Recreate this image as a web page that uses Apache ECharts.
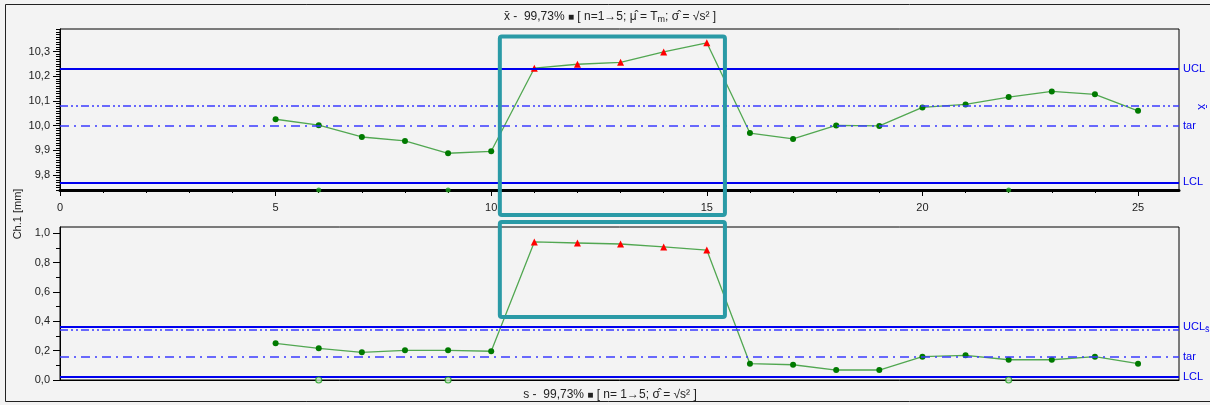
<!DOCTYPE html>
<html><head><meta charset="utf-8">
<script src="https://cdn.jsdelivr.net/npm/echarts@6/dist/echarts.min.js"></script>
<style>html,body{margin:0;padding:0;background:#f3f3f3}#c{width:1210px;height:405px}</style>
</head><body><div id="c"></div>
<script>
// ---- data ----
const samples   = [5,6,7,8,9,10,11,12,13,14,15,16,17,18,19,20,21,22,23,24,25];
const xbarValues = [10.026,10.002,9.954,9.938,9.888,9.896,10.233,10.249,10.257,10.299,10.336,9.970,9.946,10.001,9.999,10.074,10.086,10.116,10.139,10.127,10.060];
const sValues    = [0.250,0.216,0.189,0.202,0.202,0.196,0.941,0.934,0.927,0.907,0.886,0.111,0.104,0.068,0.068,0.159,0.168,0.138,0.138,0.159,0.111];
const alarmSamples = [11,12,13,14,15];
const eventSamples = [6,9,22];
// limits: [UCL, mean, target, LCL]
const xbarLimits = [10.231, 10.077, 10.0, 9.769];
const sLimits    = [0.363, 0.339, 0.162, 0.0227];
const xTicks      = [0,5,10,15,20,25];
const xbarTicks   = [9.8,9.9,10.0,10.1,10.2,10.3];
const sTicks      = [0.0,0.2,0.4,0.6,0.8,1.0];
const sMinorTicks = [0.1,0.3,0.5,0.7,0.9];
// highlight boxes in data units: [x0, x1, y0, y1]
const boxTop    = [10.2, 15.42, 9.638, 10.362];
const boxBottom = [10.2, 15.42, 0.43, 1.077];

const xMin = 0, xMax = 25.95;
const yTopMin = 9.739, yTopMax = 10.392;
const yBotMin = 0, yBotMax = 1.043;

const xbarMinor = [];
for (let k = 974; k <= 1039; k++) { if (k % 10 !== 0) xbarMinor.push(k / 100); }
const xMinor = [];
for (let k = 1; k <= 25; k++) { if (k % 5 !== 0) xMinor.push(k); }

const FONT = 'Liberation Sans, Arial, sans-serif';
const BLUE = '#0000ee';
const LBLUE = '#3b3bff';
const comma = v => (Math.round(v * 10) / 10).toFixed(1).replace('.', ',');

function pointData(vals) {
  return samples.map((x, i) => {
    if (alarmSamples.indexOf(x) >= 0) {
      return { value: [x, vals[i]], symbol: 'triangle', symbolSize: 7, itemStyle: { color: '#ff0000' } };
    }
    return { value: [x, vals[i]] };
  });
}
function limitLines(lim, labels) {
  const styles = [
    { color: BLUE, width: 2, type: 'solid' },
    { color: LBLUE, width: 1.5, type: [8, 3, 2, 3, 2, 3] },
    { color: LBLUE, width: 1.5, type: [9, 5, 2, 5] },
    { color: BLUE, width: 2, type: 'solid' }
  ];
  return lim.map((v, i) => ({
    yAxis: v,
    lineStyle: styles[i],
    label: { show: labels[i] !== '', formatter: labels[i], position: 'end', distance: 4, color: BLUE, fontSize: 11, fontFamily: FONT,
      rich: { s: { fontSize: 9, color: BLUE, fontFamily: FONT, padding: [4, 0, 0, 0] } } }
  }));
}

const chart = echarts.init(document.getElementById('c'), null, { renderer: 'canvas' });
const axisText = { color: '#222', fontSize: 11, fontFamily: FONT };

const option = {
  animation: false,
  backgroundColor: '#f3f3f3',
  grid: [
    { left: 60, right: 31, top: 29, height: 161, show: true, borderColor: '#000', borderWidth: 1, backgroundColor: '#f3f3f3' },
    { left: 60, right: 31, top: 227, height: 153, show: true, borderColor: '#000', borderWidth: 1, backgroundColor: '#f3f3f3' }
  ],
  xAxis: [
    { gridIndex: 0, type: 'value', min: xMin, max: xMax, position: 'bottom',
      axisLine: { show: true, lineStyle: { color: '#000', width: 3 } },
      axisTick: { show: true, length: 6, customValues: xTicks, lineStyle: { color: '#000' } },
      axisLabel: { show: true, customValues: xTicks, margin: 12, ...axisText },
      splitLine: { show: false } },
    { gridIndex: 0, type: 'value', min: xMin, max: xMax, position: 'bottom',
      axisLine: { show: false },
      axisTick: { show: true, length: 3, customValues: xMinor, lineStyle: { color: '#000' } },
      axisLabel: { show: false }, splitLine: { show: false } },
    { gridIndex: 1, type: 'value', min: xMin, max: xMax, position: 'bottom',
      axisLine: { show: true, lineStyle: { color: '#000', width: 1 } },
      axisTick: { show: false }, axisLabel: { show: false }, splitLine: { show: false } }
  ],
  yAxis: [
    { gridIndex: 0, type: 'value', min: yTopMin, max: yTopMax, position: 'left',
      axisLine: { show: true, lineStyle: { color: '#000', width: 1 } },
      axisTick: { show: true, length: 7, customValues: xbarTicks, lineStyle: { color: '#000' } },
      axisLabel: { show: true, customValues: xbarTicks, margin: 10, formatter: comma, ...axisText },
      splitLine: { show: false } },
    { gridIndex: 0, type: 'value', min: yTopMin, max: yTopMax, position: 'left',
      axisLine: { show: false },
      axisTick: { show: true, length: 4, customValues: xbarMinor, lineStyle: { color: '#000' } },
      axisLabel: { show: false }, splitLine: { show: false } },
    { gridIndex: 1, type: 'value', min: yBotMin, max: yBotMax, position: 'left',
      axisLine: { show: true, lineStyle: { color: '#000', width: 1 } },
      axisTick: { show: true, length: 7, customValues: sTicks, lineStyle: { color: '#000' } },
      axisLabel: { show: true, customValues: sTicks, margin: 10, formatter: comma, ...axisText },
      splitLine: { show: false } },
    { gridIndex: 1, type: 'value', min: yBotMin, max: yBotMax, position: 'left',
      axisLine: { show: false },
      axisTick: { show: true, length: 4, customValues: sMinorTicks, lineStyle: { color: '#000' } },
      axisLabel: { show: false }, splitLine: { show: false } }
  ],
  series: [
    { type: 'line', xAxisIndex: 0, yAxisIndex: 0, data: pointData(xbarValues),
      symbol: 'circle', symbolSize: 6, itemStyle: { color: '#007a00' },
      lineStyle: { color: '#3f9f3f', width: 1.3, opacity: 0.9 },
      markLine: { silent: true, symbol: 'none', data: limitLines(xbarLimits, ['UCL', '', 'tar', 'LCL']) } },
    { type: 'line', xAxisIndex: 2, yAxisIndex: 2, data: pointData(sValues),
      symbol: 'circle', symbolSize: 6, itemStyle: { color: '#007a00' },
      lineStyle: { color: '#3f9f3f', width: 1.3, opacity: 0.9 },
      markLine: { silent: true, symbol: 'none', data: limitLines(sLimits, ['UCL{s|s̄}', '', 'tar', 'LCL']) } },
    { type: 'scatter', xAxisIndex: 0, yAxisIndex: 0, clip: false, z: 5,
      data: eventSamples.map(x => [x, yTopMin]), symbol: 'circle', symbolSize: 5,
      itemStyle: { color: '#1e9e1e' } },
    { type: 'scatter', xAxisIndex: 2, yAxisIndex: 2, clip: false, z: 5,
      data: eventSamples.map(x => [x, yBotMin]), symbol: 'circle', symbolSize: 6,
      itemStyle: { color: '#bfe3bf', borderColor: '#1e9e1e', borderWidth: 1.2 } }
  ]
};
chart.setOption(option);

// annotations placed through the chart's own coordinate conversion
function px(grid, x, y) { return chart.convertToPixel({ gridIndex: grid }, [x, y]); }
function boxRect(grid, b) {
  const p0 = px(grid, b[0], b[3]);
  const p1 = px(grid, b[1], b[2]);
  return { type: 'rect', z: 100, shape: { x: p0[0], y: p0[1], width: p1[0] - p0[0], height: p1[1] - p0[1], r: 2 },
    style: { fill: 'none', stroke: '#2a9aa6', lineWidth: 4 } };
}
const meanTop = px(0, xMax, xbarLimits[1]);
const titleRich = {
  t: { fontSize: 12, fontFamily: FONT, fill: '#222' },
  sub: { fontSize: 9, fontFamily: FONT, fill: '#222', padding: [5, 0, 0, 0] },
  ic: { fontSize: 10, fontFamily: FONT, fill: '#222' }
};
chart.setOption({
  graphic: [
    { type: 'rect', z: -1, shape: { x: 5.5, y: 4.5, width: 1215, height: 397 }, style: { fill: 'none', stroke: '#222', lineWidth: 1 } },
    { type: 'text', x: 610, y: 17, style: { text: '{t|x̄ -  99,73% }{ic|■}{t| [ n=1→5; μ̂ = T}{sub|m}{t|; σ̂ = √s² ]}', rich: titleRich, align: 'center', verticalAlign: 'middle' } },
    { type: 'text', x: 610, y: 395, style: { text: '{t|s -  99,73% }{ic|■}{t| [ n= 1→5; σ̂ = √s² ]}', rich: titleRich, align: 'center', verticalAlign: 'middle' } },
    { type: 'text', x: 18, y: 214, rotation: Math.PI / 2, style: { text: 'Ch.1 [mm]', font: '11px ' + FONT, fill: '#222', align: 'center', verticalAlign: 'middle' } },
    { type: 'text', x: meanTop[0] + 22, y: meanTop[1], rotation: -Math.PI / 2, style: { text: 'x̄', font: '12px ' + FONT, fill: BLUE, align: 'center', verticalAlign: 'middle' } },
    boxRect(0, boxTop),
    boxRect(1, boxBottom)
  ]
});
</script></body></html>
